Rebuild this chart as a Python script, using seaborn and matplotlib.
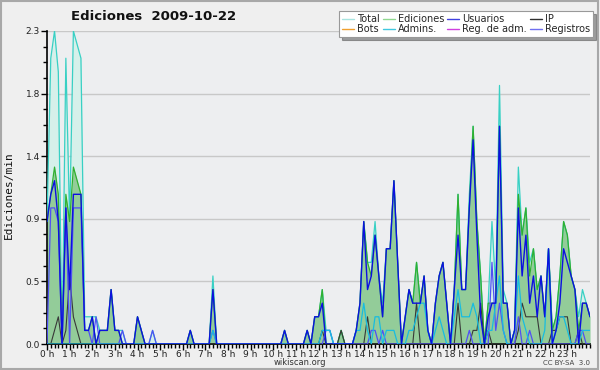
import numpy as np
import pandas as pd
import matplotlib
matplotlib.use("Agg")
import matplotlib.pyplot as plt
from matplotlib.lines import Line2D
from matplotlib.patches import Rectangle
from matplotlib.ticker import MultipleLocator
import seaborn as sns

# one value every 10 minutes, 00:00 .. 24:00
minutes = np.arange(0, 1450, 10)

total = [
    0.9, 2.1, 2.3, 2.0, 0.0, 2.1,  0.9, 2.3, 2.2, 2.1, 0.2, 0.2,
    0.2, 0.2, 0.1, 0.1, 0.1, 0.4,  0.1, 0.1, 0.1, 0.0, 0.0, 0.0,
    0.2, 0.1, 0.0, 0.0, 0.1, 0.0,  0.0, 0.0, 0.0, 0.0, 0.0, 0.0,
    0.0, 0.0, 0.1, 0.0, 0.0, 0.0,  0.0, 0.0, 0.5, 0.0, 0.0, 0.0,
    0.0, 0.0, 0.0, 0.0, 0.0, 0.0,  0.0, 0.0, 0.0, 0.0, 0.0, 0.0,
    0.0, 0.0, 0.0, 0.1, 0.0, 0.0,  0.0, 0.0, 0.0, 0.1, 0.0, 0.2,
    0.2, 0.4, 0.1, 0.1, 0.0, 0.0,  0.1, 0.0, 0.0, 0.0, 0.1, 0.3,
    0.9, 0.6, 0.6, 0.9, 0.5, 0.3,  0.7, 0.7, 1.2, 0.6, 0.0, 0.2,
    0.4, 0.3, 0.6, 0.3, 0.5, 0.1,  0.0, 0.3, 0.5, 0.6, 0.3, 0.0,
    0.4, 1.1, 0.4, 0.4, 1.1, 1.6,  0.9, 0.5, 0.0, 0.3, 0.9, 0.4,
    1.9, 0.4, 0.3, 0.0, 0.1, 1.3,  0.8, 1.0, 0.6, 0.7, 0.4, 0.5,
    0.2, 0.7, 0.1, 0.2, 0.5, 0.9,  0.8, 0.5, 0.4, 0.2, 0.4, 0.3,
    0.2,
]
ediciones = [
    0.9, 1.1, 1.3, 1.1, 0.0, 1.1,  0.9, 1.3, 1.2, 1.1, 0.1, 0.1,
    0.2, 0.0, 0.1, 0.1, 0.1, 0.4,  0.1, 0.1, 0.0, 0.0, 0.0, 0.0,
    0.2, 0.1, 0.0, 0.0, 0.0, 0.0,  0.0, 0.0, 0.0, 0.0, 0.0, 0.0,
    0.0, 0.0, 0.1, 0.0, 0.0, 0.0,  0.0, 0.0, 0.4, 0.0, 0.0, 0.0,
    0.0, 0.0, 0.0, 0.0, 0.0, 0.0,  0.0, 0.0, 0.0, 0.0, 0.0, 0.0,
    0.0, 0.0, 0.0, 0.1, 0.0, 0.0,  0.0, 0.0, 0.0, 0.1, 0.0, 0.2,
    0.2, 0.4, 0.0, 0.0, 0.0, 0.0,  0.1, 0.0, 0.0, 0.0, 0.1, 0.3,
    0.9, 0.6, 0.5, 0.8, 0.5, 0.2,  0.7, 0.7, 1.2, 0.6, 0.0, 0.2,
    0.4, 0.3, 0.6, 0.3, 0.5, 0.1,  0.0, 0.3, 0.5, 0.6, 0.3, 0.0,
    0.4, 1.1, 0.4, 0.4, 1.0, 1.6,  0.9, 0.5, 0.0, 0.3, 0.3, 0.3,
    1.6, 0.3, 0.3, 0.0, 0.1, 1.1,  0.8, 1.0, 0.5, 0.7, 0.4, 0.5,
    0.2, 0.7, 0.1, 0.2, 0.5, 0.9,  0.8, 0.5, 0.4, 0.1, 0.3, 0.3,
    0.2,
]
usuarios = [
    0.9, 1.1, 1.2, 0.9, 0.0, 1.0,  0.4, 1.1, 1.1, 1.1, 0.1, 0.1,
    0.2, 0.0, 0.1, 0.1, 0.1, 0.4,  0.1, 0.1, 0.0, 0.0, 0.0, 0.0,
    0.2, 0.1, 0.0, 0.0, 0.0, 0.0,  0.0, 0.0, 0.0, 0.0, 0.0, 0.0,
    0.0, 0.0, 0.1, 0.0, 0.0, 0.0,  0.0, 0.0, 0.4, 0.0, 0.0, 0.0,
    0.0, 0.0, 0.0, 0.0, 0.0, 0.0,  0.0, 0.0, 0.0, 0.0, 0.0, 0.0,
    0.0, 0.0, 0.0, 0.1, 0.0, 0.0,  0.0, 0.0, 0.0, 0.1, 0.0, 0.2,
    0.2, 0.3, 0.0, 0.0, 0.0, 0.0,  0.0, 0.0, 0.0, 0.0, 0.1, 0.3,
    0.9, 0.4, 0.5, 0.8, 0.5, 0.2,  0.7, 0.7, 1.2, 0.6, 0.0, 0.2,
    0.4, 0.3, 0.3, 0.3, 0.5, 0.1,  0.0, 0.3, 0.5, 0.6, 0.3, 0.0,
    0.4, 0.8, 0.4, 0.4, 1.0, 1.5,  0.8, 0.2, 0.0, 0.2, 0.3, 0.3,
    1.6, 0.3, 0.3, 0.0, 0.1, 1.0,  0.5, 0.8, 0.3, 0.5, 0.2, 0.5,
    0.2, 0.7, 0.0, 0.1, 0.3, 0.7,  0.6, 0.5, 0.4, 0.0, 0.3, 0.3,
    0.2,
]
ip = [
    0.0, 0.0, 0.1, 0.2, 0.0, 0.1,  0.5, 0.2, 0.1, 0.0, 0.0, 0.0,
    0.0, 0.0, 0.0, 0.0, 0.0, 0.0,  0.0, 0.0, 0.0, 0.0, 0.0, 0.0,
    0.0, 0.0, 0.0, 0.0, 0.0, 0.0,  0.0, 0.0, 0.0, 0.0, 0.0, 0.0,
    0.0, 0.0, 0.0, 0.0, 0.0, 0.0,  0.0, 0.0, 0.0, 0.0, 0.0, 0.0,
    0.0, 0.0, 0.0, 0.0, 0.0, 0.0,  0.0, 0.0, 0.0, 0.0, 0.0, 0.0,
    0.0, 0.0, 0.0, 0.0, 0.0, 0.0,  0.0, 0.0, 0.0, 0.0, 0.0, 0.0,
    0.0, 0.1, 0.0, 0.0, 0.0, 0.0,  0.1, 0.0, 0.0, 0.0, 0.0, 0.0,
    0.0, 0.2, 0.0, 0.0, 0.0, 0.0,  0.0, 0.0, 0.0, 0.0, 0.0, 0.0,
    0.0, 0.0, 0.3, 0.0, 0.0, 0.0,  0.0, 0.0, 0.0, 0.0, 0.0, 0.0,
    0.0, 0.3, 0.0, 0.0, 0.0, 0.1,  0.1, 0.3, 0.0, 0.1, 0.0, 0.0,
    0.0, 0.0, 0.0, 0.0, 0.0, 0.1,  0.3, 0.2, 0.2, 0.2, 0.2, 0.0,
    0.0, 0.0, 0.1, 0.1, 0.2, 0.2,  0.2, 0.0, 0.0, 0.1, 0.0, 0.0,
    0.0,
]
admins = [
    0.0, 0.0, 0.0, 0.0, 0.0, 0.0,  0.0, 0.0, 0.0, 0.0, 0.0, 0.0,
    0.0, 0.0, 0.0, 0.0, 0.0, 0.0,  0.0, 0.0, 0.0, 0.0, 0.0, 0.0,
    0.0, 0.0, 0.0, 0.0, 0.0, 0.0,  0.0, 0.0, 0.0, 0.0, 0.0, 0.0,
    0.0, 0.0, 0.0, 0.0, 0.0, 0.0,  0.0, 0.0, 0.1, 0.0, 0.0, 0.0,
    0.0, 0.0, 0.0, 0.0, 0.0, 0.0,  0.0, 0.0, 0.0, 0.0, 0.0, 0.0,
    0.0, 0.0, 0.0, 0.0, 0.0, 0.0,  0.0, 0.0, 0.0, 0.0, 0.0, 0.0,
    0.0, 0.1, 0.1, 0.1, 0.0, 0.0,  0.0, 0.0, 0.0, 0.0, 0.1, 0.1,
    0.3, 0.1, 0.0, 0.2, 0.2, 0.0,  0.1, 0.1, 0.1, 0.0, 0.0, 0.0,
    0.1, 0.1, 0.2, 0.3, 0.3, 0.1,  0.0, 0.1, 0.2, 0.1, 0.0, 0.0,
    0.2, 0.4, 0.2, 0.2, 0.2, 0.3,  0.2, 0.0, 0.0, 0.1, 0.1, 0.3,
    0.5, 0.1, 0.0, 0.0, 0.1, 0.5,  0.2, 0.1, 0.0, 0.0, 0.0, 0.0,
    0.1, 0.7, 0.0, 0.1, 0.2, 0.2,  0.1, 0.0, 0.0, 0.0, 0.1, 0.1,
    0.1,
]
registros = [
    0.0, 1.0, 1.0, 0.9, 0.0, 1.0,  0.0, 1.0, 1.0, 1.0, 0.1, 0.1,
    0.0, 0.2, 0.0, 0.0, 0.0, 0.0,  0.0, 0.0, 0.1, 0.0, 0.0, 0.0,
    0.0, 0.0, 0.0, 0.0, 0.1, 0.0,  0.0, 0.0, 0.0, 0.0, 0.0, 0.0,
    0.0, 0.0, 0.0, 0.0, 0.0, 0.0,  0.0, 0.0, 0.1, 0.0, 0.0, 0.0,
    0.0, 0.0, 0.0, 0.0, 0.0, 0.0,  0.0, 0.0, 0.0, 0.0, 0.0, 0.0,
    0.0, 0.0, 0.0, 0.0, 0.0, 0.0,  0.0, 0.0, 0.0, 0.0, 0.0, 0.0,
    0.0, 0.0, 0.1, 0.1, 0.0, 0.0,  0.0, 0.0, 0.0, 0.0, 0.0, 0.0,
    0.0, 0.0, 0.1, 0.1, 0.0, 0.1,  0.0, 0.0, 0.0, 0.0, 0.0, 0.0,
    0.0, 0.0, 0.0, 0.0, 0.0, 0.0,  0.0, 0.0, 0.0, 0.0, 0.0, 0.0,
    0.0, 0.0, 0.0, 0.0, 0.1, 0.0,  0.0, 0.0, 0.0, 0.0, 0.6, 0.1,
    0.3, 0.1, 0.0, 0.0, 0.0, 0.2,  0.0, 0.0, 0.1, 0.0, 0.0, 0.0,
    0.0, 0.0, 0.0, 0.0, 0.0, 0.0,  0.0, 0.0, 0.0, 0.1, 0.1, 0.0,
    0.0,
]

hour_labels = [f"{h} h" for h in range(24)]
ytick_labels = ["0.0", "0.5", "0.9", "1.4", "1.8", "2.3"]

legend_names = ["Total", "Bots", "Ediciones", "Admins.",
                "Usuarios", "Reg. de adm.", "IP", "Registros"]
legend_colors = ["#a8e4e0", "#f0a030", "#90d890", "#40c8e0",
                 "#4040e0", "#d040e0", "#303030", "#7070f0"]

df = pd.DataFrame({
    "hora": minutes / 60,
    "Total": total,
    "Ediciones": ediciones,
    "Usuarios": usuarios,
    "IP": ip,
    "Admins": admins,
    "Registros": registros,
})

sns.set_style("white")
plt.rcParams["font.family"] = ["DejaVu Sans"]

fig = plt.figure(figsize=(6, 3.7), dpi=100, facecolor="#efefef")
ax = fig.add_axes([47 / 600, 26 / 370, 543 / 600, 313 / 370])
ax.set_facecolor("#edeef0")

# filled areas
ax.fill_between(df["hora"], df["Total"], color="#d6f0ea", lw=0, zorder=1)
ax.fill_between(df["hora"], df["Ediciones"], color="#8cc890", alpha=0.9, lw=0, zorder=2)

sns.lineplot(data=df, x="hora", y="Total", color="#38d0c4", lw=0.9, ax=ax, zorder=3)
sns.lineplot(data=df, x="hora", y="Ediciones", color="#30b030", lw=0.9, ax=ax, zorder=4)
sns.lineplot(data=df, x="hora", y="IP", color="#383838", lw=0.8, ax=ax, zorder=5)
sns.lineplot(data=df, x="hora", y="Registros", color="#5050f4", lw=0.9, ax=ax, zorder=6)
sns.lineplot(data=df, x="hora", y="Admins", color="#18bce0", lw=0.9, ax=ax, zorder=7)
sns.lineplot(data=df, x="hora", y="Usuarios", color="#0c10e0", lw=1.0, ax=ax, zorder=8)

ax.set_xlim(0, 24)
ax.set_ylim(0, 2.3)
ax.set_xlabel("")
ax.set_ylabel("")

ax.set_yticks(np.linspace(0, 2.3, 6))
ax.set_yticklabels(ytick_labels)
ax.yaxis.set_minor_locator(MultipleLocator(2.3 / 20))
ax.set_xticks(range(24))
ax.set_xticklabels(hour_labels)
ax.xaxis.set_minor_locator(MultipleLocator(1 / 6))
ax.tick_params(axis="both", which="major", labelsize=6.5, length=4, width=1,
               color="black", pad=1, labelcolor="#222222", direction="out")
ax.tick_params(axis="x", which="major", pad=0.5)
ax.tick_params(axis="both", which="minor", length=3, width=1, color="black", direction="out")
ax.tick_params(axis="x", which="both", bottom=True)
ax.tick_params(axis="y", which="both", left=True)

ax.grid(axis="y", which="major", color="#c8c8c8", lw=1)
ax.set_axisbelow(True)
for side in ["top", "right"]:
    ax.spines[side].set_visible(False)
for side in ["left", "bottom"]:
    ax.spines[side].set_color("black")
    ax.spines[side].set_linewidth(1.2)

handles = [Line2D([], [], color=c, lw=1.0) for c in legend_colors]
leg = fig.legend(handles, legend_names, ncol=4, loc="upper right",
                 bbox_to_anchor=(593 / 600, 1 - 11 / 370), fontsize=7,
                 frameon=True, fancybox=False, shadow=True,
                 handlelength=1.2, handletextpad=0.35, columnspacing=0.3,
                 labelspacing=0.0, borderpad=0.3, borderaxespad=0)
leg.get_frame().set_edgecolor("#999999")
leg.get_frame().set_facecolor("white")
leg.get_frame().set_linewidth(0.8)

fig.text(154 / 600, 1 - 17 / 370, "Ediciones  2009-10-22", ha="center", va="center",
         fontsize=9.5, fontweight="bold", color="#111111")
fig.text(9 / 600, 1 - 195 / 370, "Ediciones/min", rotation=90, ha="center", va="center",
         fontsize=8, family="DejaVu Sans Mono", color="#111111")
fig.text(300 / 600, 1 - 362.5 / 370, "wikiscan.org", ha="center", va="center",
         fontsize=6, color="#333333")
fig.text(590 / 600, 1 - 363 / 370, "CC BY-SA  3.0", ha="right", va="center",
         fontsize=5, color="#444444")

fig.patches.append(Rectangle((0.002, 0.003), 0.995, 0.994, transform=fig.transFigure,
                             fill=False, edgecolor="#a8a8a8", lw=1.5))

fig.savefig("out.png", dpi=100, facecolor=fig.get_facecolor())
